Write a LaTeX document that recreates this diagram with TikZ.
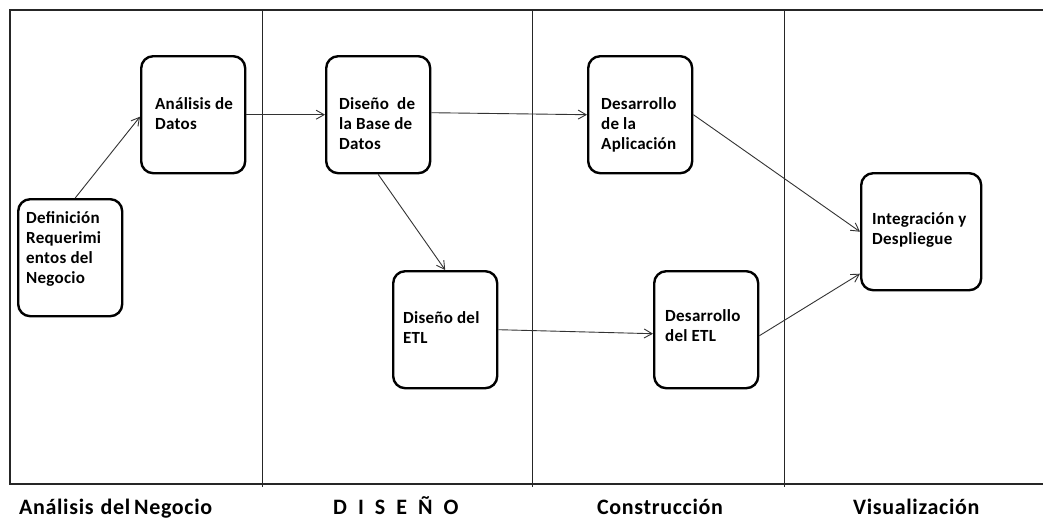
\documentclass[tikz,border=0pt]{standalone}
\usepackage{fontspec}
\setmainfont{Carlito}
\usetikzlibrary{arrows.meta,calc}
\begin{document}
\begin{tikzpicture}[x=1pt,y=-1pt,
  box/.style={draw=black,line width=2.4pt,rounded corners=12pt,minimum width=104pt,minimum height=117pt,inner sep=0pt,anchor=north west},
  txt/.style={anchor=north west,inner sep=0pt,align=left,font=\bfseries\fontsize{17}{20}\selectfont\addfontfeatures{LetterSpace=1.5},text=black},
  lane/.style={font=\bfseries\fontsize{22}{24}\selectfont\addfontfeatures{LetterSpace=3},anchor=base west,inner sep=0pt},
  frame/.style={line width=2.6pt,draw=black!85},
  divider/.style={line width=1pt,draw=black!85},
  conn/.style={draw=black!80,line width=0.9pt,-{Straight Barb[length=8pt,width=9pt,line width=0.9pt]}}]
\useasboundingbox (0,0) rectangle (1043,520);
\fill[white] (0,0) rectangle (1043,520);
% frame and lanes
\draw[frame] (1043,10) -- (10,10) -- (10,484) -- (1043,484);
\draw[divider] (262,10) -- (262,487);
\draw[divider] (532,10) -- (532,487);
\draw[divider] (784,10) -- (784,487);
% boxes
\node[box] (defn) at (17,198) {};
\node[box] (anal) at (140,55) {};
\node[box] (dbd) at (325,55) {};
\node[box] (dapp) at (587,55) {};
\node[box] (detl) at (392,270) {};
\node[box] (desetl) at (653,270) {};
\node[box,minimum width=120pt] (integ) at (860,172) {};
% texts
\node[txt] (tdefn) at ($(defn.north west)+(9,13)$) {Definición\\Requerimi\\entos del\\Negocio};
\node[txt] (tanal) at ($(anal.north west)+(15,42)$) {Análisis de\\Datos};
\node[txt] (tdbd) at ($(dbd.north west)+(14,42)$) {Diseño\ \ de\\la Base de\\Datos};
\node[txt] (tdapp) at ($(dapp.north west)+(14,42)$) {Desarrollo\\de la\\Aplicación};
\node[txt] (tdetl) at ($(detl.north west)+(11,41)$) {Diseño del\\ETL};
\node[txt] (tdesetl) at ($(desetl.north west)+(12,39)$) {Desarrollo\\del ETL};
\node[txt] (tinteg) at ($(integ.north west)+(12,40)$) {Integración y\\Despliegue};
% connectors
\draw[conn] ([xshift=5pt]defn.north) -- ([yshift=-2pt]anal.west);
\draw[conn] (anal.east) -- (dbd.west);
\draw[conn] ([yshift=2pt]dbd.east) -- (dapp.west);
\draw[conn] (dbd.south) -- (detl.north);
\draw[conn] (detl.east) -- ([yshift=-4pt]desetl.west);
\draw[conn] (dapp.east) -- (integ.west);
\draw[conn] ([yshift=-6pt]desetl.east) -- ([yshift=-42pt]integ.west);
% lane labels
\node[lane] (l1) at (19,514) {Análisis\hspace{0.32em}del\hspace{0.18em}Negocio};
\node[lane] (l2) at (333,514) {D\hspace{0.5em}I\hspace{0.5em}S\hspace{0.5em}E\hspace{0.5em}Ñ\hspace{0.5em}O};
\node[lane] (l3) at (597,514) {Construcción};
\node[lane] (l4) at (853,514) {Visualización};
\end{tikzpicture}
\end{document}
